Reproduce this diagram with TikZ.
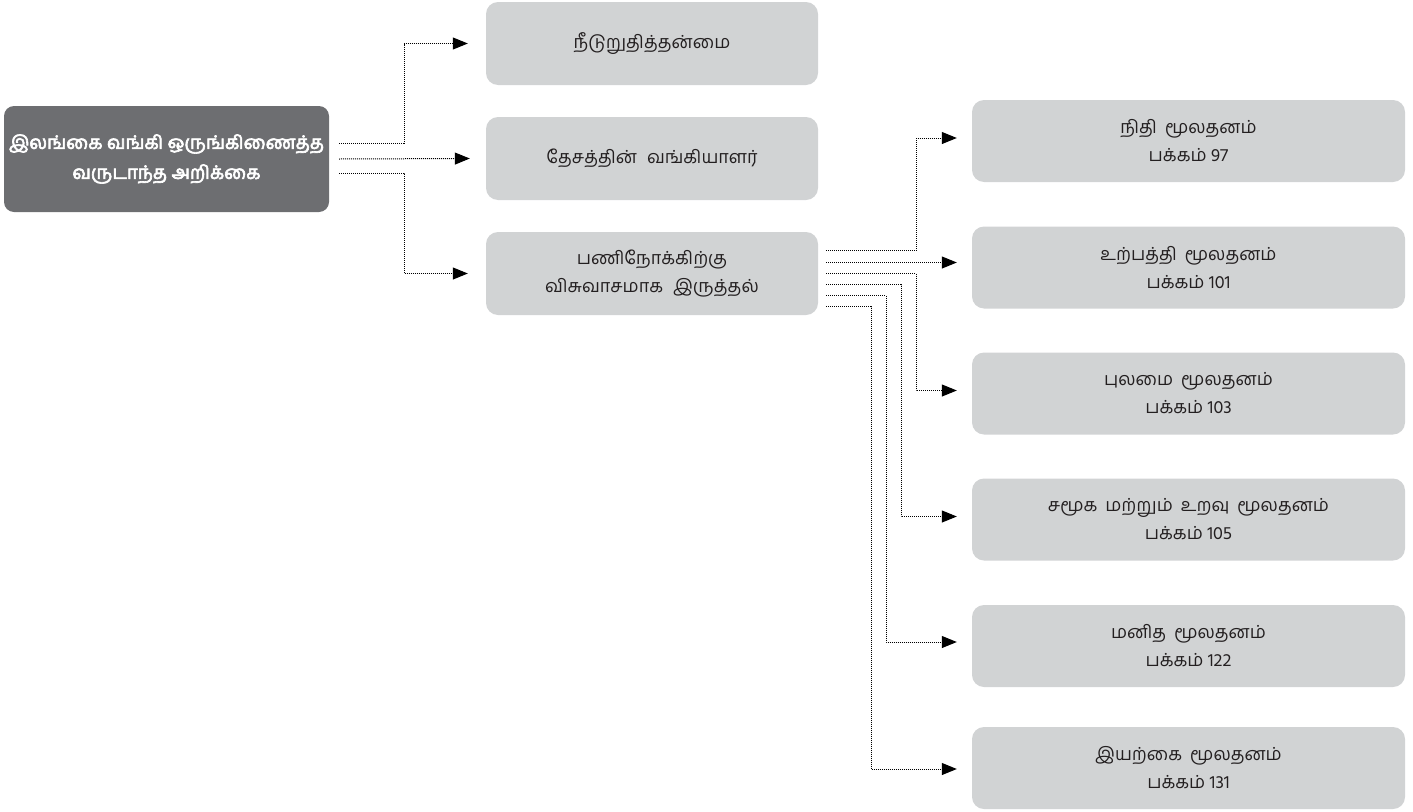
\documentclass[tikz,border=0pt]{standalone}
\usepackage{fontspec}
\setmainfont{Hind Madurai}[Script=Tamil]
\newfontfamily\rootfont{Hind Madurai}[Script=Tamil, FakeBold=3.5]
\usepackage{tikz}
\usetikzlibrary{arrows.meta}

\definecolor{rootgray}{HTML}{6D6E71}
\definecolor{boxgray}{HTML}{D1D3D4}
\definecolor{inkgray}{HTML}{231F20}

\tikzset{
    rootbox/.style={fill=rootgray, rounded corners=10pt, minimum width=325pt, minimum height=106pt,
        align=center, text=white, font=\rootfont\fontsize{18.5}{30}\selectfont},
    midbox/.style={fill=boxgray, rounded corners=12pt, minimum width=332pt, minimum height=83pt,
        align=center, text=inkgray, font=\fontsize{18}{28}\selectfont},
    capbox/.style={fill=boxgray, rounded corners=12pt, minimum width=433pt, minimum height=82pt,
        align=center, text=inkgray, font=\fontsize{18}{28}\selectfont},
    link/.style={densely dotted, line width=1pt, -{Triangle[length=15pt,width=12pt]}}
}

\begin{document}
\begin{tikzpicture}[x=1pt, y=-1pt]
    \useasboundingbox (0,0) rectangle (1413,811);

    \node [rootbox] (root) at (166.5,159) {இலங்கை வங்கி ஒருங்கிணைத்த\\வருடாந்த அறிக்கை};

    \node [midbox] (sustain) at (652,43.5) {நீடுறுதித்தன்மை};
    \node [midbox] (banker) at (652,158.5) {தேசத்தின்\hspace{10pt}வங்கியாளர்};
    \node [midbox] (mission) at (652,273.5) {பணிநோக்கிற்கு\\விசுவாசமாக\hspace{10pt}இருத்தல்};

    \node [capbox] (fin) at (1188.5,141) {நிதி\hspace{8pt}மூலதனம்\\பக்கம் 97};
    \node [capbox] (mfg) at (1188.5,267.5) {உற்பத்தி\hspace{8pt}மூலதனம்\\பக்கம் 101};
    \node [capbox] (intel) at (1188.5,393.5) {புலமை\hspace{8pt}மூலதனம்\\பக்கம் 103};
    \node [capbox] (social) at (1188.5,519.5) {சமூக\hspace{8pt}மற்றும்\hspace{8pt}உறவு\hspace{8pt}மூலதனம்\\பக்கம் 105};
    \node [capbox] (human) at (1188.5,646) {மனித\hspace{8pt}மூலதனம்\\பக்கம் 122};
    \node [capbox] (nature) at (1188.5,768) {இயற்கை\hspace{8pt}மூலதனம்\\பக்கம் 131};

    \draw [link] ([xshift=10pt,yshift=16pt]root.east) -- ++(65,0) |- ([xshift=-18pt]sustain.west);
    \draw [link] ([xshift=10pt]root.east) -- ([xshift=-16pt]banker.west);
    \draw [link] ([xshift=10pt,yshift=-14pt]root.east) -- ++(65,0) |- ([xshift=-18pt]mission.west);

    \draw [link] ([xshift=8pt,yshift=23pt]mission.east) -- ++(90,0) |- ([xshift=-15pt,yshift=3pt]fin.west);
    \draw [link] ([xshift=8pt,yshift=11pt]mission.east) -- ([xshift=-15pt,yshift=5pt]mfg.west);
    \draw [link] ([xshift=8pt]mission.east) -- ++(90,0) |- ([xshift=-15pt,yshift=3pt]intel.west);
    \draw [link] ([xshift=8pt,yshift=-11pt]mission.east) -- ++(75,0) |- ([xshift=-15pt,yshift=3pt]social.west);
    \draw [link] ([xshift=8pt,yshift=-22pt]mission.east) -- ++(60,0) |- ([xshift=-15pt,yshift=4pt]human.west);
    \draw [link] ([xshift=8pt,yshift=-33pt]mission.east) -- ++(45,0) |- ([xshift=-15pt,yshift=-1pt]nature.west);
\end{tikzpicture}
\end{document}
